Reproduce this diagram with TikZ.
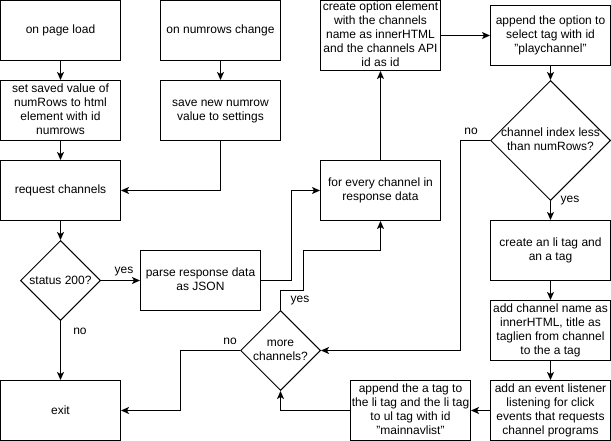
\documentclass[tikz,border=0pt]{standalone}
\usepackage{fontspec}
\setmainfont{Liberation Sans}
\usetikzlibrary{shapes.geometric,arrows.meta}
\newcommand{\ml}[1]{\begin{tabular}{@{}c@{}}#1\end{tabular}}
\begin{document}
\begin{tikzpicture}[x=1pt,y=-1pt,
 every node/.style={font=\fontsize{12}{14}\selectfont},
 box/.style={draw,line width=1pt,minimum width=120pt,minimum height=60pt,align=center,inner sep=0pt},
 dia/.style={draw,diamond,line width=1pt,inner sep=0pt},
 arr/.style={line width=1pt,-{Stealth[length=8pt,width=7pt,inset=2pt]}},
 lbl/.style={inner sep=0pt}]
\useasboundingbox (0,0) rectangle (611,441);
\node[box] (pl) at (60.5,30.5) {on page load};
\node[box] (nc) at (220.5,30.5) {on numrows change};
\node[box] (ss) at (60.5,110.5) {\ml{set saved value of\\numRows to html\\element with id\\numrows}};
\node[box] (sn) at (220.5,110.5) {\ml{save new numrow\\value to settings}};
\node[box] (rc) at (60.5,190.5) {request channels};
\node[dia,minimum width=80pt,minimum height=80pt,label={center:status 200?}] (st) at (60.5,280.5) {};
\node[box] (pj) at (200.5,280.5) {\ml{parse response data\\as JSON}};
\node[box] (ex) at (60.5,410.5) {exit};
\node[box] (fe) at (380.5,190.5) {\ml{for every channel in\\response data}};
\node[box,minimum height=69pt] (co) at (380.5,35.5) {\ml{create option element\\with the channels\\name as innerHTML\\and the channels API\\id as id}};
\node[box] (ap) at (550.5,35.5) {\ml{append the option to\\select tag with id\\"playchannel"}};
\node[dia,minimum width=120pt,minimum height=120pt,label={center:\ml{channel index less\\than numRows?}}] (ci) at (550.5,140.5) {};
\node[box] (li) at (550.5,250.5) {\ml{create an li tag and\\an a tag}};
\node[box] (an) at (550.5,330.5) {\ml{add channel name as\\innerHTML, title as\\taglien from channel\\to the a tag}};
\node[box] (ev) at (550.5,410.5) {\ml{add an event listener\\listening for click\\events that requests\\channel programs}};
\node[box] (atag) at (410.5,410.5) {\ml{append the a tag to\\the li tag and the li tag\\to ul tag with id\\"mainnavlist"}};
\node[dia,minimum width=80pt,minimum height=80pt,label={center:\ml{more\\channels?}}] (mc) at (280.5,350.5) {};
\draw[arr] (pl) -- (ss);
\draw[arr] (nc) -- (sn);
\draw[arr] (ss) -- (rc);
\draw[arr] (sn.south) |- (rc.east);
\draw[arr] (rc) -- (st);
\draw[arr] (st.east) -- (pj.west);
\node[lbl] (ly1) at (124,272) {yes};
\draw[arr] (st.south) -- (ex.north);
\node[lbl] (ln1) at (80,331) {no};
\draw[arr] (pj.east) -- ++(30,0) |- (fe.west);
\draw[arr] (mc.north) -- ++(0,-20) -- ++(23,0) -- ++(0,-40) -| (fe.south);
\node[lbl] (ly2) at (300,301) {yes};
\draw[arr] (fe) -- (co);
\draw[arr] (co.east) -- (ap.west);
\draw[arr] (ap) -- (ci);
\draw[arr] (ci.south) -- (li.north);
\node[lbl] (ly3) at (570,201) {yes};
\draw[arr] (ci.west) -- ++(-30,0) |- (mc.east);
\node[lbl] (ln2) at (471,131) {no};
\draw[arr] (li) -- (an);
\draw[arr] (an) -- (ev);
\draw[arr] (ev) -- (atag);
\draw[arr] (atag.west) -| (mc.south);
\draw[arr] (mc.west) -- ++(-60,0) |- (ex.east);
\node[lbl] (ln3) at (230,341) {no};
\end{tikzpicture}
\end{document}
